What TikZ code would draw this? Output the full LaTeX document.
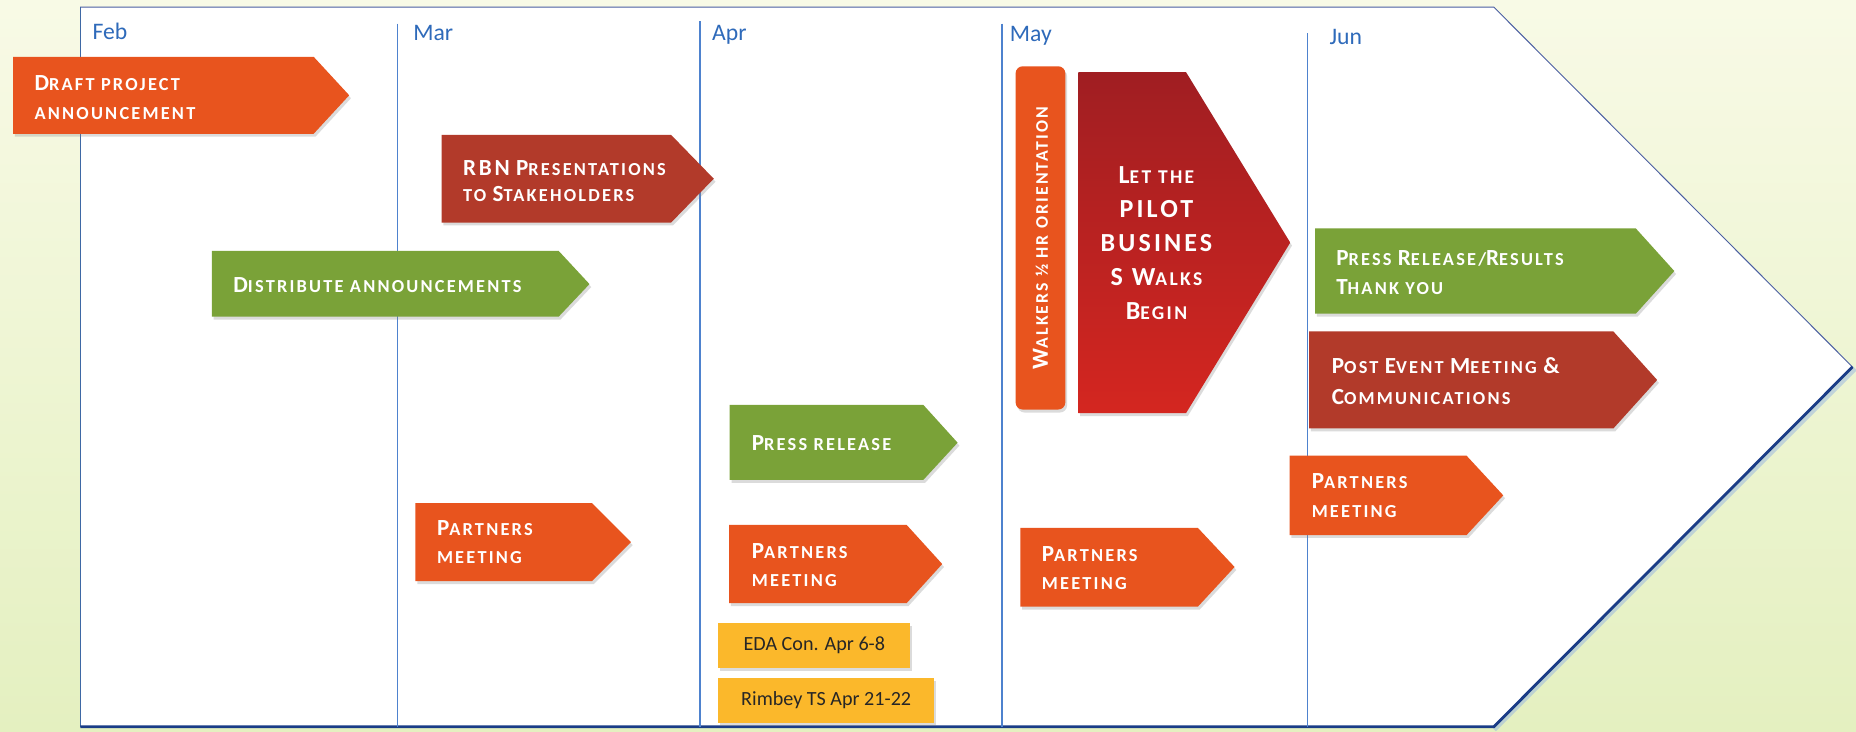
\documentclass[tikz,border=0pt]{standalone}
\usepackage{fontspec}
\setmainfont{Carlito}
\newfontfamily\tagfont[LetterSpace=12]{Carlito}
\usetikzlibrary{shadows}

\definecolor{bgtop}{RGB}{248,250,230}
\definecolor{bgbottom}{RGB}{228,240,192}
\definecolor{edgeblue}{RGB}{74,94,160}
\definecolor{darkedge}{RGB}{26,60,135}
\definecolor{monthline}{RGB}{78,130,206}
\definecolor{monthtext}{RGB}{46,106,186}
\definecolor{tagorange}{RGB}{232,84,30}
\definecolor{tagred}{RGB}{178,58,42}
\definecolor{taggreen}{RGB}{122,162,56}
\definecolor{tagyellow}{RGB}{251,184,43}
\definecolor{pilottop}{RGB}{160,30,34}
\definecolor{pilotbottom}{RGB}{212,38,32}

% size of the large initials in the tags
\newcommand{\capsz}{19.5}
\newcommand{\initcap}[1]{{\fontsize{\capsz}{\capsz}\selectfont #1}}

\tikzset{
  tag/.style={drop shadow={opacity=0.28, shadow xshift=1.5pt, shadow yshift=-2.5pt}},
  % tag texts hang on the baseline of their last line
  tagtext/.style={anchor=base west, inner sep=0pt, align=left, text=white,
    font=\tagfont\bfseries\fontsize{15.5}{24}\selectfont},
  datebox/.style={fill=tagyellow, tag, inner sep=0pt, minimum height=38pt,
    text=black!85, font=\fontsize{17}{20}\selectfont},
  month/.style={anchor=base west, inner sep=0pt, text=monthtext, font=\fontsize{20}{24}\selectfont},
  monthrule/.style={draw=monthline, line width=1.2pt}
}

\begin{document}
\begin{tikzpicture}[x=1pt, y=-1pt]
  \useasboundingbox (0,0) rectangle (1568,618);
  \shade[top color=bgtop, bottom color=bgbottom] (0,0) rectangle (1568,618);

  % white arrow with the months
  \fill[white] (68,6) -- (1262,6) -- (1565,310) -- (1262,614) -- (68,614) -- cycle;
  \draw[line width=5pt, monthline!60, opacity=0.5] (1262,616) -- (1567,311);
  \draw[line width=0.8pt, edgeblue] (68,614) -- (68,6) -- (1262,6) -- (1565,310);
  \draw[line width=1.4pt, monthline!80!black] (68,6) -- (68,614);
  \draw[line width=2.4pt, darkedge] (68,614) -- (1262,614) -- (1565,310);

  \draw[monthrule] (336,20) -- (336,614);
  \draw[monthrule] (591.5,18) -- (591.5,614);
  \draw[monthrule] (846.5,20) -- (846.5,614);
  \draw[monthrule] (1104.5,28) -- (1104.5,614);

  \node at (78,33) [month] (feb) {Feb};
  \node at (349,34.5) [month] (mar) {Mar};
  \node at (601.5,34) [month] (apr) {Apr};
  \node at (853,35) [month] (may) {May};
  \node at (1123,37.5) [month] (jun) {Jun};

  % Feb / Mar
  \fill[tag, tagorange] (11,48) -- (265,48) -- (295,80.5) -- (265,113) -- (11,113) -- cycle;
  \node at (29,100.8) [tagtext] (draft) {\initcap{D}RAFT PROJECT\\ANNOUNCEMENT};

  \fill[tag, tagred] (373,114) -- (567,114) -- (603,151) -- (567,188) -- (373,188) -- cycle;
  \node at (391,170) [tagtext] (rbn) {\initcap{RBN} \initcap{P}RESENTATIONS\\[-2pt]TO \initcap{S}TAKEHOLDERS};

  \fill[tag, taggreen] (179,212) -- (472,212) -- (498,240) -- (472,267.5) -- (179,267.5) -- cycle;
  \node at (197,247) [tagtext] (distribute) {\initcap{D}ISTRIBUTE ANNOUNCEMENTS};

  \fill[tag, tagorange] (351,425) -- (500,425) -- (533,458) -- (500,491) -- (351,491) -- cycle;
  \node at (369,476) [tagtext] (partnersmar) {\initcap{P}ARTNERS\\MEETING};

  % Apr
  \fill[tag, taggreen] (616.5,342) -- (780,342) -- (809,374) -- (780,405.5) -- (616.5,405.5) -- cycle;
  \node at (635,380.7) [tagtext] (press) {\initcap{P}RESS RELEASE};

  \fill[tag, tagorange] (616,443.5) -- (766,443.5) -- (796,476.5) -- (766,509.5) -- (616,509.5) -- cycle;
  \node at (635,495.6) [tagtext] (partnersapr) {\initcap{P}ARTNERS\\MEETING};

  \node at (688,545) [datebox, minimum width=162pt] (eda) {EDA Con. Apr 6-8};
  \node at (698,591.5) [datebox, minimum width=182pt] (rimbey) {Rimbey TS Apr 21-22};

  % May
  \node at (879,201) [tag, fill=tagorange, rounded corners=6pt, rotate=90, inner sep=0pt,
    minimum width=290pt, minimum height=42pt, text=white,
    font=\tagfont\bfseries\fontsize{15}{16}\selectfont] (walkers)
    {\initcap{W}ALKERS ½ HR ORIENTATION};

  \shade[tag, top color=pilottop, bottom color=pilotbottom]
    (911,61) -- (1002,61) -- (1090,205) -- (1002,349) -- (911,349) -- cycle;
  \node at (977,270.3) [anchor=base, inner sep=0pt, align=center, text=white,
    font=\tagfont\bfseries\fontsize{16.5}{28.8}\selectfont\renewcommand{\capsz}{22}] (pilot)
    {\initcap{L}ET THE\\\initcap{PILOT}\\\initcap{BUSINES}\\\initcap{S W}ALKS\\\initcap{B}EGIN};

  \fill[tag, tagorange] (862,446) -- (1012,446) -- (1043,479) -- (1012,512.5) -- (862,512.5) -- cycle;
  \node at (880,498.4) [tagtext] (partnersmay) {\initcap{P}ARTNERS\\MEETING};

  % Jun
  \fill[tag, taggreen] (1111,193) -- (1382,193) -- (1414.5,229) -- (1382,265) -- (1111,265) -- cycle;
  \node at (1128.7,249.2) [tagtext] (results) {\initcap{P}RESS \initcap{R}ELEASE/\initcap{R}ESULTS\\[1pt]\initcap{T}HANK YOU};

  \fill[tag, tagred] (1106,280) -- (1363,280) -- (1400,321) -- (1363,362) -- (1106,362) -- cycle;
  \node at (1125,342) [tagtext] (postevent) {\initcap{P}OST \initcap{E}VENT \initcap{M}EETING \initcap{\&}\\[2.5pt]\initcap{C}OMMUNICATIONS};

  \fill[tag, tagorange] (1089.5,385) -- (1239,385) -- (1270,418.5) -- (1239,452) -- (1089.5,452) -- cycle;
  \node at (1108,437) [tagtext] (partnersjun) {\initcap{P}ARTNERS\\MEETING};
\end{tikzpicture}
\end{document}
